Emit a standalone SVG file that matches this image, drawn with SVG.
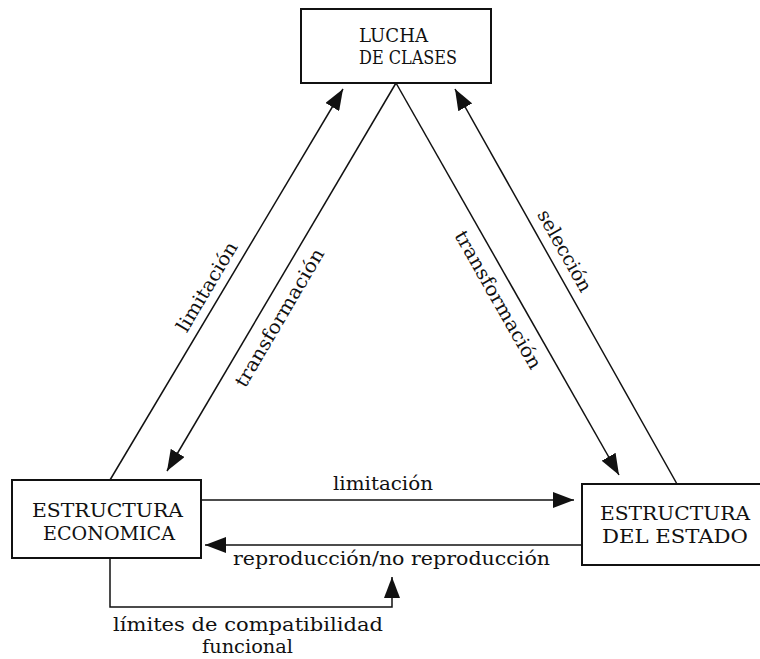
<svg xmlns="http://www.w3.org/2000/svg" width="760" height="659" viewBox="0 0 760 659">
<style>
.box{fill:#fff;stroke:#111;stroke-width:2}
.t{font-family:"DejaVu Serif","Liberation Serif",serif;font-size:19px;fill:#111;text-anchor:middle}
.c{fill:none;stroke:#111;stroke-width:1.5}
</style>
<defs>
<marker id="ah" markerUnits="userSpaceOnUse" markerWidth="22" markerHeight="16" refX="21" refY="8" orient="auto">
<path d="M0,0 L21,8 L0,16 z" fill="#111"/>
</marker>
</defs>
<rect width="760" height="659" fill="#fff"/>
<g id="connectors">
<line class="c" x1="110" y1="480" x2="343" y2="89" marker-end="url(#ah)"/>
<line class="c" x1="396" y1="83" x2="167" y2="471" marker-end="url(#ah)"/>
<line class="c" x1="396" y1="83" x2="619" y2="475" marker-end="url(#ah)"/>
<line class="c" x1="677" y1="484" x2="455" y2="89" marker-end="url(#ah)"/>
<line class="c" x1="201" y1="500" x2="574" y2="500" marker-end="url(#ah)"/>
<line class="c" x1="582" y1="545" x2="205" y2="545" marker-end="url(#ah)"/>
<path class="c" d="M110,558 V607 H392 V577" marker-end="url(#ah)"/>
<text class="t" transform="translate(212.5,290) rotate(-59.3)" textLength="101" lengthAdjust="spacingAndGlyphs">limitación</text>
<text class="t" transform="translate(285,321) rotate(-59.5)" textLength="157" lengthAdjust="spacingAndGlyphs">transformación</text>
<text class="t" transform="translate(492.5,303) rotate(60.4)" textLength="156" lengthAdjust="spacingAndGlyphs">transformación</text>
<text class="t" transform="translate(559,254) rotate(60.6)" textLength="91" lengthAdjust="spacingAndGlyphs">selección</text>
<text class="t" x="383" y="490" textLength="100" lengthAdjust="spacingAndGlyphs">limitación</text>
<text class="t" x="391.5" y="565" textLength="317" lengthAdjust="spacingAndGlyphs">reproducción/no reproducción</text>
<text class="t" x="248" y="631" textLength="270" lengthAdjust="spacingAndGlyphs">límites de compatibilidad</text>
<text class="t" x="247.5" y="653" textLength="91" lengthAdjust="spacingAndGlyphs">funcional</text>
</g>
<g id="lucha">
<rect class="box" x="301" y="9" width="190" height="74"/>
<text class="t" x="393.5" y="42" textLength="69" lengthAdjust="spacingAndGlyphs">LUCHA</text>
<text class="t" x="408" y="64" textLength="98" lengthAdjust="spacingAndGlyphs">DE CLASES</text>
</g>
<g id="economica">
<rect class="box" x="12" y="480" width="189" height="78"/>
<text class="t" x="107.5" y="517" textLength="151" lengthAdjust="spacingAndGlyphs">ESTRUCTURA</text>
<text class="t" x="109" y="540" textLength="132" lengthAdjust="spacingAndGlyphs">ECONOMICA</text>
</g>
<g id="estado">
<rect class="box" x="582" y="484" width="182" height="81"/>
<text class="t" x="675" y="520" textLength="150" lengthAdjust="spacingAndGlyphs">ESTRUCTURA</text>
<text class="t" x="675" y="543" textLength="146" lengthAdjust="spacingAndGlyphs">DEL ESTADO</text>
</g>
</svg>
